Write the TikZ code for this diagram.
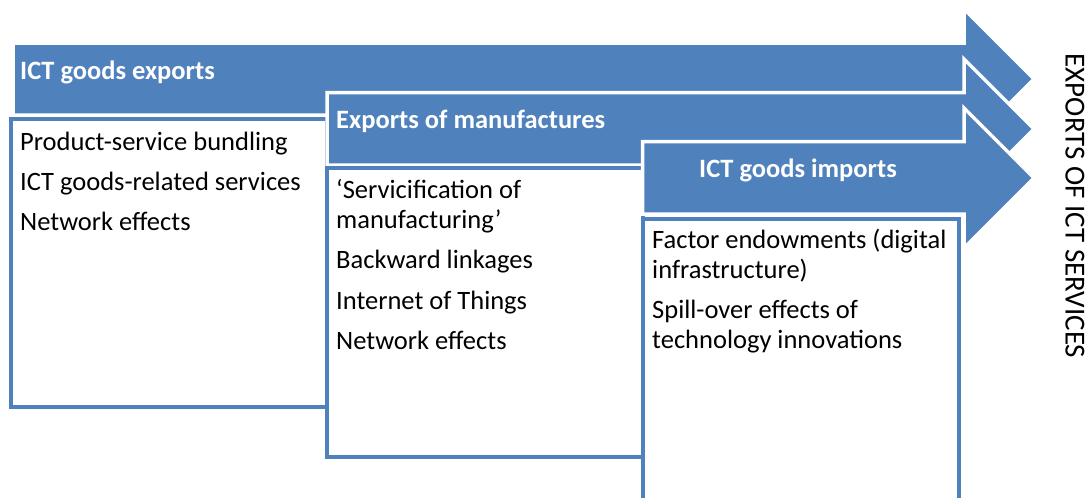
\documentclass[tikz,border=0pt]{standalone}
\usepackage{fontspec}
\setmainfont{Carlito}
\definecolor{accent}{HTML}{4F81BD}
\tikzset{
  band/.style={fill=accent, draw=white, line width=3.5pt, line join=miter},
  panel/.style={fill=white, draw=accent, line width=4pt},
  bandlabel/.style={text=white, font=\fontsize{26.5}{30}\selectfont\bfseries, inner sep=0},
  paneltext/.style={font=\fontsize{26.5}{30}\selectfont, inner sep=0, anchor=base west},
}
\begin{document}
\begin{tikzpicture}[x=1pt,y=-1pt]
\useasboundingbox (0,0) rectangle (1090,498);
\clip (0,0) rectangle (1090,498);

% first band and its panel
\path[band] (13,43) -- (964,43) -- (964,9) -- (1034,79) -- (964,149) -- (964,115) -- (13,115) -- cycle;
\path[panel] (11,119) rectangle (327,407);

% second band and its panel
\path[band] (327,92.5) -- (964,92.5) -- (964,59) -- (1034,129) -- (964,199) -- (964,165) -- (327,165) -- cycle;
\path[panel] (327,168) rectangle (643,457);

% third band and its panel
\path[band] (642.5,141.5) -- (964,141.5) -- (964,108) -- (1034,178) -- (964,248) -- (964,214) -- (642.5,214) -- cycle;
\path[panel] (643,219) rectangle (959,540);

% band titles
\node[bandlabel, anchor=base west] (l1) at (20,79) {ICT goods exports};
\node[bandlabel, anchor=base west] (l2) at (336,128) {Exports of manufactures};
\node[bandlabel, anchor=base] (l3) at (798,177) {ICT goods imports};

% first panel
\node[paneltext] (t1a) at (20,150) {Product-service bundling};
\node[paneltext] (t1b) at (20,190) {ICT goods-related services};
\node[paneltext] (t1c) at (20,230) {Network effects};

% second panel
\node[paneltext] (t2a) at (336,198) {‘Servicification of};
\node[paneltext] (t2b) at (336,228) {manufacturing’};
\node[paneltext] (t2c) at (336,268.5) {Backward linkages};
\node[paneltext] (t2d) at (336,309) {Internet of Things};
\node[paneltext] (t2e) at (336,349.5) {Network effects};

% third panel
\node[paneltext] (t3a) at (652,248) {Factor endowments (digital};
\node[paneltext] (t3b) at (652,278) {infrastructure)};
\node[paneltext] (t3c) at (652,318) {Spill-over effects of};
\node[paneltext] (t3d) at (652,348) {technology innovations};

% outcome label
\node[rotate=-90, font=\fontsize{29}{32}\selectfont, inner sep=0] (side) at (1075,206) {EXPORTS OF ICT SERVICES};
\end{tikzpicture}
\end{document}
